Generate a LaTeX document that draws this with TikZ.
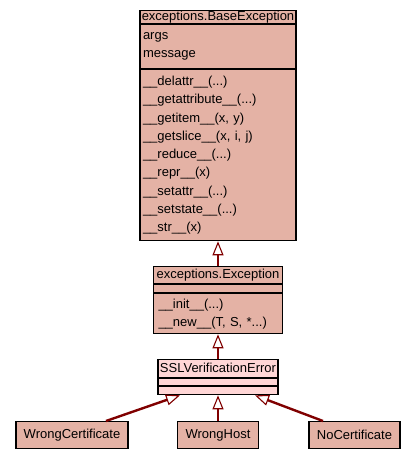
\documentclass[tikz,border=0pt]{standalone}
\usepackage{fontspec}
\newfontfamily\umlfont{Liberation Sans}
\definecolor{umlSalmon}{RGB}{228,178,165}
\definecolor{umlPink}{RGB}{255,214,214}
\definecolor{umlMaroon}{RGB}{128,0,0}
\usepackage{tikz}
\usetikzlibrary{arrows.meta,positioning}

\begin{document}
\begin{tikzpicture}[x=1pt, y=-1pt,
    umlbox/.style={draw=black, fill=umlSalmon, line width=1.1pt, inner ysep=0pt,
      font=\umlfont\fontsize{13}{18}\selectfont},
    umltitle/.style={umlbox, inner xsep=1pt},
    umlsection/.style={umlbox, inner xsep=3pt, align=left},
    inherit/.style={umlMaroon, line width=2.4pt,
      -{Triangle[length=14pt, width=11pt, line width=1.1pt, fill=white]}}]
  \useasboundingbox (0,0) rectangle (416,459);

  \node[umltitle, minimum width=156pt, text height=9.5pt, text depth=3pt, anchor=north]
    (basetitle) at (218,10) {exceptions.BaseException};
  \node[umlsection, text width=150pt, minimum height=44.5pt, below=0pt of basetitle]
    (baseattr) {args\\message};
  \node[umlsection, text width=150pt, minimum height=171pt, below=0pt of baseattr,
        font=\umlfont\fontsize{13}{18.3}\selectfont] (basemeth)
    {\_\_delattr\_\_(...)\\\_\_getattribute\_\_(...)\\\_\_getitem\_\_(x, y)\\
     \_\_getslice\_\_(x, i, j)\\\_\_reduce\_\_(...)\\\_\_repr\_\_(x)\\
     \_\_setattr\_\_(...)\\\_\_setstate\_\_(...)\\\_\_str\_\_(x)};

  \node[umltitle, minimum width=129pt, minimum height=17pt, anchor=north]
    (exctitle) at (218,266) {exceptions.Exception};
  \node[umlsection, text width=123pt, minimum height=8pt, below=0pt of exctitle]
    (excattr) {};
  \node[umlsection, text width=119pt, inner xsep=5pt, minimum height=40pt,
        below=0pt of excattr] (excmeth)
    {\_\_init\_\_(...)\\\_\_new\_\_(T, S, *...)};

  \node[umltitle, fill=umlPink, minimum width=120pt, text height=10pt, text depth=3pt,
        minimum height=18pt, anchor=north]
    (ssltitle) at (218,359) {SSLVerificationError};
  \node[umlsection, fill=umlPink, text width=114pt, minimum height=7pt,
        below=0pt of ssltitle] (sslattr) {};
  \node[umlsection, fill=umlPink, text width=114pt, minimum height=8pt,
        below=0pt of sslattr] (sslmeth) {};

  \node[umltitle, minimum width=112pt, minimum height=27pt, anchor=north]
    (wrongcert) at (72,421) {WrongCertificate};
  \node[umltitle, minimum width=81pt, minimum height=27pt, anchor=north]
    (wronghost) at (218,421) {WrongHost};
  \node[umltitle, minimum width=91pt, minimum height=27pt, anchor=north]
    (nocert) at (354.5,421) {NoCertificate};

  \draw[inherit] (exctitle.north) -- (basemeth.south);
  \draw[inherit] (ssltitle.north) -- (excmeth.south);
  \draw[inherit] ([xshift=34pt]wrongcert.north) -- ([xshift=-38pt]sslmeth.south);
  \draw[inherit] (wronghost.north) -- (sslmeth.south);
  \draw[inherit] ([xshift=-31.5pt]nocert.north) -- ([xshift=37pt]sslmeth.south);
\end{tikzpicture}
\end{document}
